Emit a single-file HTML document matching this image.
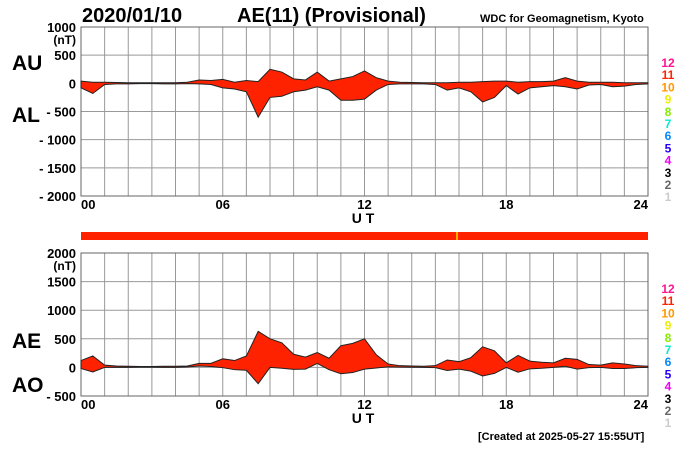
<!DOCTYPE html>
<html><head><meta charset="utf-8"><style>
body{margin:0;background:#fff;}
svg text{font-family:"Liberation Sans",Arial,sans-serif;font-weight:bold;}
</style></head><body>
<svg id="c" width="700" height="450" viewBox="0 0 700 450" xmlns="http://www.w3.org/2000/svg">
<text x="82" y="22" font-size="20">2020/01/10</text>
<text x="237" y="22" font-size="20">AE(11) (Provisional)</text>
<text x="480" y="22" font-size="11">WDC for Geomagnetism, Kyoto</text>
<text x="12" y="70" font-size="21">AU</text>
<text x="12" y="122" font-size="21">AL</text>
<text x="12" y="348" font-size="21">AE</text>
<text x="12" y="392" font-size="21">AO</text>
<rect x="81" y="232" width="567" height="8" fill="#ff2200"/>
<rect x="456" y="232" width="2" height="8" fill="#ffaa00"/>
<text x="478" y="440" font-size="11">[Created at 2025-05-27 15:55UT]</text>
<g id="top"></g><g id="bot"></g>
</svg>
<script>
const hours=[0,0.5,1,1.5,2,2.5,3,3.5,4,4.5,5,5.5,6,6.5,7,7.5,8,8.5,9,9.5,10,10.5,11,11.5,12,12.5,13,13.5,14,14.5,15,15.5,16,16.5,17,17.5,18,18.5,19,19.5,20,20.5,21,21.5,22,22.5,23,23.5,24];
const au=[40,20,20,15,10,10,10,10,10,20,60,50,70,20,50,30,250,200,80,60,200,40,80,120,220,100,40,20,15,10,10,10,20,20,30,40,40,20,30,30,40,100,40,20,20,20,10,10,10];
const al=[-80,-180,-20,-10,-10,-5,-5,-10,-10,-5,-10,-20,-80,-100,-150,-600,-250,-230,-150,-120,-60,-120,-300,-300,-280,-120,-20,-10,-10,-10,-20,-120,-80,-150,-330,-250,-40,-190,-80,-60,-40,-60,-100,-30,-20,-60,-50,-20,-10];
const topTicks=[1000,500,0,-500,-1000,-1500,-2000];
const botTicks=[2000,1500,1000,500,0,-500];
const xTicks=["00","06","12","18","24"];
const levelLabels=["12","11","10","9","8","7","6","5","4","3","2","1"];
const levelColors=["#ff1493","#ff2200","#ff9900","#eeee00","#88ee00","#00eecc","#0088ff","#2200ff","#ee00ee","#000","#666","#ccc"];
const ae=au.map((v,i)=>v-al[i]);
const ao=au.map((v,i)=>(v+al[i])/2);
const NS="http://www.w3.org/2000/svg";
const X0=81,X1=648;
const xs=h=>X0+(X1-X0)*h/24;
function mk(p,t,a){const e=document.createElementNS(NS,t);for(const k in a)e.setAttribute(k,a[k]);p.appendChild(e);return e;}
function panel(g,y0,y1,vmax,vmin,ticks,upper,lower,nm){
  const ys=v=>y0+(vmax-v)/(vmax-vmin)*(y1-y0);
  for(let h=0;h<=24;h++){const l=mk(g,'line',{x1:xs(h),x2:xs(h),y1:y0,y2:y1,stroke:'#999','stroke-width':1});
    
    }
  ticks.forEach(t=>{const l=mk(g,'line',{x1:X0,x2:X1,y1:ys(t),y2:ys(t),stroke:'#999','stroke-width':1});
    
    
    const tx=mk(g,'text',{x:76,y:ys(t)+5,'font-size':13,'text-anchor':'end'});tx.textContent=(t<0?'- '+(-t):t);
    
    });
  const u=mk(g,'text',{x:76,y:ys(ticks[0])+17,'font-size':12,'text-anchor':'end'});u.textContent='(nT)';
  
  
  const fr=mk(g,'rect',{x:X0,y:y0,width:X1-X0,height:y1-y0,fill:'none',stroke:'#666','stroke-width':1});
  
  
  let d='M'+hours.map((h,i)=>xs(h)+','+ys(upper[i])).join('L');
  for(let i=hours.length-1;i>=0;i--)d+='L'+xs(hours[i])+','+ys(lower[i]);
  const p=mk(g,'path',{d:d+'Z',fill:'#ff2200',stroke:'#222','stroke-width':1});
  
  
  xTicks.forEach((t,i)=>{const tx=mk(g,'text',{x:xs(i*6),y:y1+13,'font-size':13,'text-anchor':i==4?'end':(i==0?'start':'middle')});tx.textContent=t;
    
    });
  const ut=mk(g,'text',{x:363,y:y1+27,'font-size':14,'text-anchor':'middle'});ut.textContent='U T';
  
  
  levelLabels.forEach((s,i)=>{const tx=mk(g,'text',{x:668,y:y0+40+i*12.2,'font-size':12,'text-anchor':'middle',fill:levelColors[i]});tx.textContent=s;
    
    });
}
panel(document.getElementById('top'),27,196,1000,-2000,topTicks,au,al,'au-al-band');
panel(document.getElementById('bot'),253,396,2000,-500,botTicks,ae,ao,'ae-ao-band');
</script>
</body></html>
